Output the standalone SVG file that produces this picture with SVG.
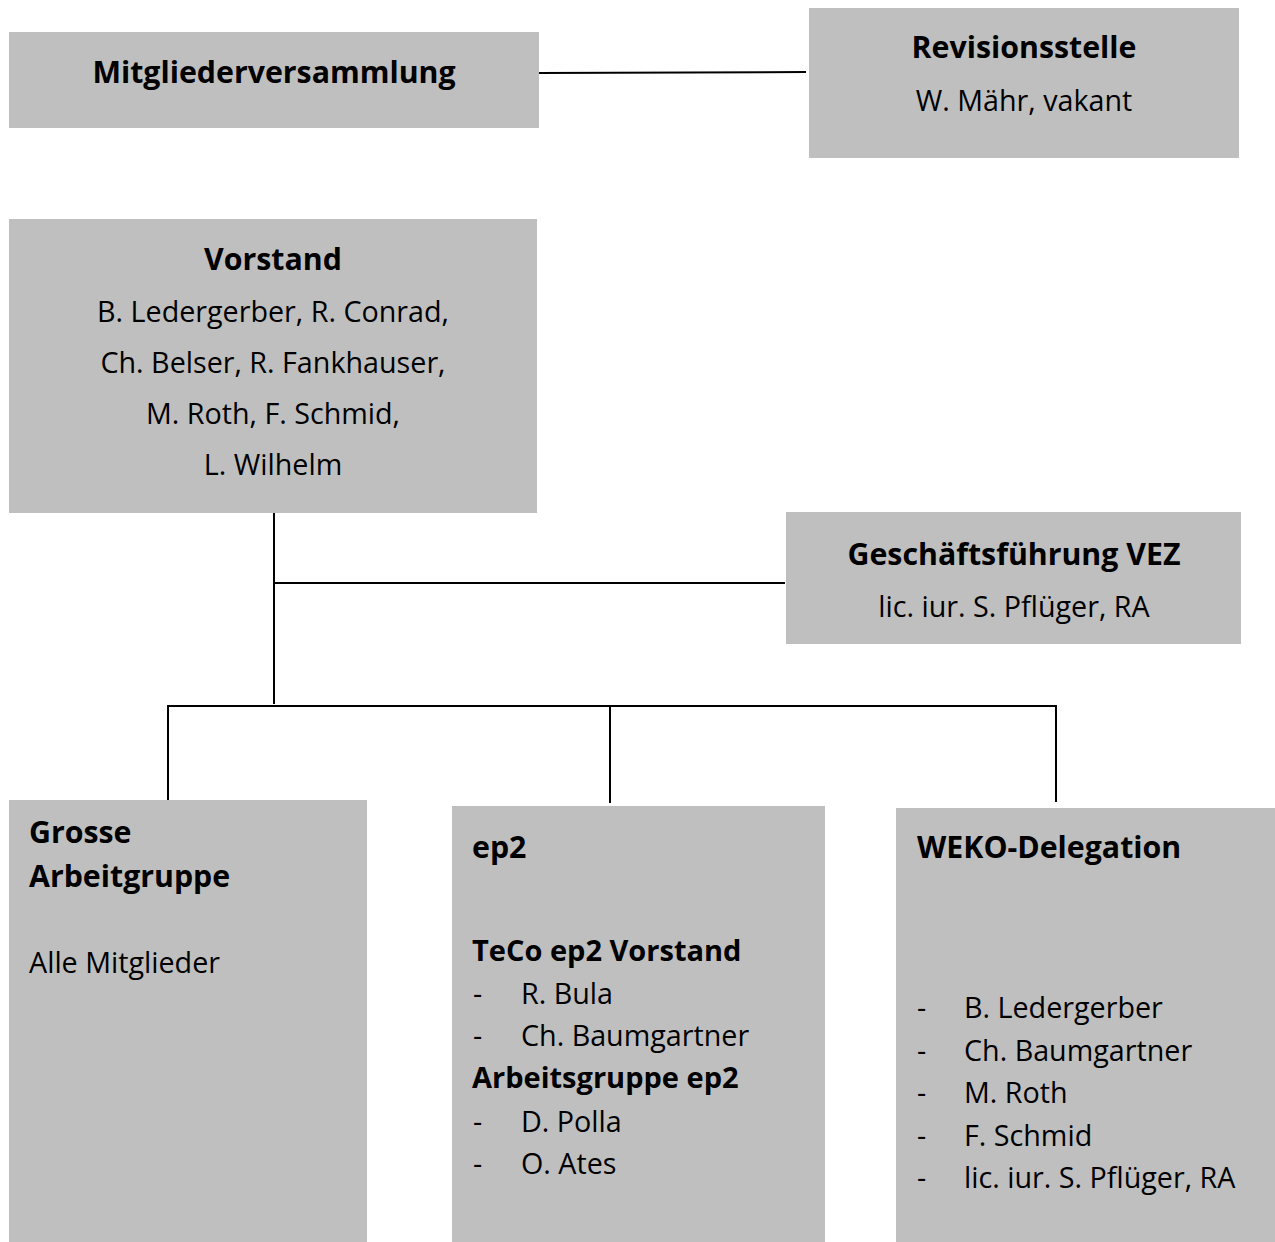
<svg xmlns="http://www.w3.org/2000/svg" width="1275" height="1242" viewBox="0 0 1275 1242">
<style>
.box{fill:#bfbfbf}
.t{font-family:"Open Sans","Noto Sans","Liberation Sans",sans-serif;fill:#000}
.b{font-weight:bold;font-size:30.3px}
.s{font-size:29px}
.r{font-size:28.7px}
.c{text-anchor:middle}
.ln{stroke:#000;stroke-width:2;fill:none}
</style>
<rect width="1275" height="1242" fill="#fff"/>
<g id="connectors">
<line class="ln" x1="538" y1="73" x2="806" y2="72"/>
<line class="ln" x1="274" y1="513" x2="274" y2="704"/>
<line class="ln" x1="274" y1="583" x2="785" y2="583"/>
<line class="ln" x1="167" y1="706" x2="1057" y2="706"/>
<line class="ln" x1="168" y1="706" x2="168" y2="800"/>
<line class="ln" x1="610" y1="706" x2="610" y2="803"/>
<line class="ln" x1="1056" y1="706" x2="1056" y2="802"/>
</g>
<g id="mitgliederversammlung">
<rect class="box" x="9" y="32" width="530" height="96"/>
<text class="t b c" x="274" y="83">Mitgliederversammlung</text>
</g>
<g id="revisionsstelle">
<rect class="box" x="809" y="8" width="430" height="150"/>
<text class="t b c" x="1024" y="58">Revisionsstelle</text>
<text class="t r c" x="1024" y="111">W. Mähr, vakant</text>
</g>
<g id="vorstand">
<rect class="box" x="9" y="219" width="528" height="294"/>
<text class="t b c" x="273" y="270">Vorstand</text>
<text class="t r c" x="273" y="322">B. Ledergerber, R. Conrad,</text>
<text class="t r c" x="273" y="373">Ch. Belser, R. Fankhauser,</text>
<text class="t r c" x="273" y="424">M. Roth, F. Schmid,</text>
<text class="t r c" x="273" y="475">L. Wilhelm</text>
</g>
<g id="geschaeftsfuehrung">
<rect class="box" x="786" y="512" width="455" height="132"/>
<text class="t b c" x="1014" y="565">Geschäftsführung VEZ</text>
<text class="t r c" x="1014" y="617">lic. iur. S. Pflüger, RA</text>
</g>
<g id="grosse-arbeitgruppe">
<rect class="box" x="9" y="800" width="358" height="442"/>
<text class="t b" x="29" y="843">Grosse</text>
<text class="t b" x="29" y="887">Arbeitgruppe</text>
<text class="t r" x="29" y="973">Alle Mitglieder</text>
</g>
<g id="ep2">
<rect class="box" x="452" y="806" width="373" height="436"/>
<text class="t b" x="472" y="858">ep2</text>
<text class="t b s" x="472" y="961">TeCo ep2 Vorstand</text>
<text class="t r" x="473" y="1004">-</text><text class="t r" x="521" y="1004">R. Bula</text>
<text class="t r" x="473" y="1046">-</text><text class="t r" x="521" y="1046">Ch. Baumgartner</text>
<text class="t b s" x="472" y="1088">Arbeitsgruppe ep2</text>
<text class="t r" x="473" y="1132">-</text><text class="t r" x="521" y="1132">D. Polla</text>
<text class="t r" x="473" y="1174">-</text><text class="t r" x="521" y="1174">O. Ates</text>
</g>
<g id="weko-delegation">
<rect class="box" x="896" y="808" width="379" height="434"/>
<text class="t b" x="917" y="858">WEKO-Delegation</text>
<text class="t r" x="917" y="1018">-</text><text class="t r" x="964" y="1018">B. Ledergerber</text>
<text class="t r" x="917" y="1061">-</text><text class="t r" x="964" y="1061">Ch. Baumgartner</text>
<text class="t r" x="917" y="1103">-</text><text class="t r" x="964" y="1103">M. Roth</text>
<text class="t r" x="917" y="1146">-</text><text class="t r" x="964" y="1146">F. Schmid</text>
<text class="t r" x="917" y="1188">-</text><text class="t r" x="964" y="1188">lic. iur. S. Pflüger, RA</text>
</g>
</svg>
